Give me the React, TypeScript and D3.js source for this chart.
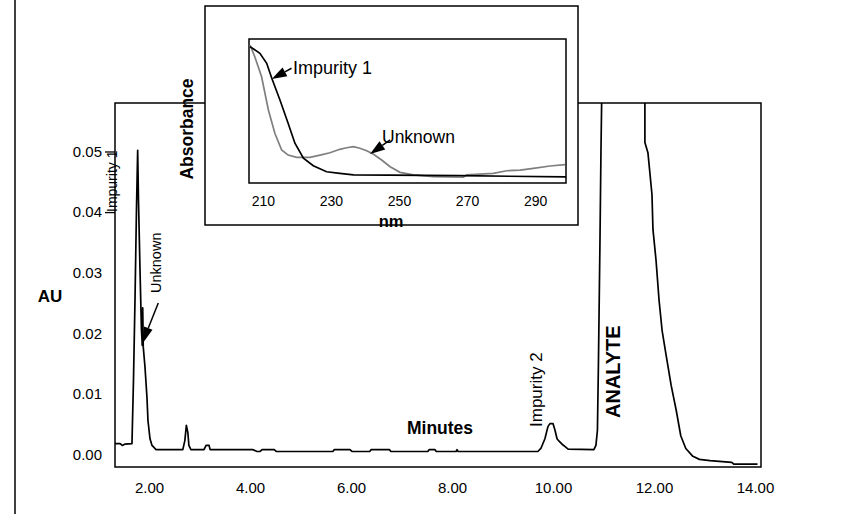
import React, { useRef, useEffect } from "react";
import * as d3 from "d3";

// chromatogram, minutes vs AU
const chromTime = [
  1.327, 1.43, 1.47, 1.52, 1.663, 1.693, 1.723, 1.752, 1.776, 1.792, 1.822, 1.851, 1.868, 1.876, 1.886,
  1.921, 1.96, 1.98, 2.02, 2.06, 2.14, 2.67, 2.71, 2.74, 2.77, 2.79, 2.83, 3.09, 3.13, 3.19, 3.21,
  4.06, 4.14, 4.2, 4.24, 4.48, 4.52, 5.64, 5.67, 5.98, 6.02, 6.37, 6.4, 6.76, 6.79, 7.52, 7.55, 7.66,
  7.69, 8.08, 8.1, 8.12, 9.7, 9.76, 9.84, 9.9, 9.94, 10.0, 10.04, 10.08, 10.12, 10.18, 10.24, 10.3,
  10.81, 10.85, 10.88, 10.9, 10.93, 10.95, 10.97, 11.4, 11.82, 11.82, 11.88, 11.96, 11.98, 12.04,
  12.1, 12.16, 12.24, 12.34, 12.44, 12.53, 12.63, 12.77, 12.9, 13.11, 13.54, 13.58, 14.05,
];
const chromAU = [
  0.0018, 0.0018, 0.0015, 0.0017, 0.0018, 0.0123, 0.0255, 0.0404, 0.0502, 0.042, 0.0305, 0.0205, 0.018, 0.0242, 0.0178,
  0.0144, 0.0094, 0.0056, 0.0026, 0.0015, 0.0008, 0.0008, 0.0023, 0.0048, 0.0036, 0.0015, 0.0008, 0.0008, 0.0015, 0.0015, 0.0008,
  0.0008, 0.0005, 0.0005, 0.0008, 0.0008, 0.0005, 0.0005, 0.0008, 0.0008, 0.0005, 0.0005, 0.0008, 0.0008, 0.0005, 0.0005, 0.0008, 0.0008,
  0.0005, 0.0005, 0.0008, 0.0005, 0.0005, 0.001, 0.0026, 0.0046, 0.0051, 0.0051, 0.004, 0.0026, 0.0022, 0.0017, 0.0013, 0.0009,
  0.0008, 0.0015, 0.004, 0.015, 0.035, 0.05, 0.062, 0.09, 0.062, 0.0515, 0.0498, 0.0429, 0.0371, 0.0321,
  0.0255, 0.0205, 0.0164, 0.0114, 0.0073, 0.0031, 0.001, -0.0003, -0.0008, -0.001, -0.0013, -0.0016, -0.0016,
];

// inset spectra (nm vs relative absorbance)
const imp1Nm = [206.2, 209.1, 211.1, 212.6, 215.0, 217.4, 219.4, 221.9, 224.8, 228.7, 232.6, 236.6, 267.9, 299.1];
const imp1Abs = [0.947, 0.901, 0.831, 0.727, 0.576, 0.415, 0.276, 0.172, 0.12, 0.078, 0.067, 0.056, 0.051, 0.042];
const unkNm = [
  206.2, 207.6, 209.6, 211.6, 213.5, 215.5, 217.4, 219.9, 223.8, 226.8, 229.7, 232.6, 234.6, 236.6, 238.5,
  240.5, 242.4, 244.9, 247.4, 250.3, 254.2, 260.1, 268.9, 269.9, 277.7, 281.7, 285.6, 289.5, 294.4, 298.8,
];
const unkAbs = [
  0.958, 0.877, 0.738, 0.507, 0.345, 0.229, 0.194, 0.178, 0.178, 0.194, 0.21, 0.234, 0.245, 0.252, 0.241,
  0.224, 0.201, 0.16, 0.113, 0.074, 0.056, 0.044, 0.04, 0.056, 0.067, 0.085, 0.09, 0.102, 0.118, 0.127,
];

const xTicks = [2, 4, 6, 8, 10, 12, 14];
const yTicks = [0, 0.01, 0.02, 0.03, 0.04, 0.05];
const insetTicks = [210, 230, 250, 270, 290];

const FONT = "'Liberation Sans', Arial, sans-serif";

function arrow(g, x1, y1, x2, y2, len, half) {
  // line from (x1,y1) to tip (x2,y2) with a filled head
  const a = Math.atan2(y2 - y1, x2 - x1);
  const bx = x2 - len * Math.cos(a);
  const by = y2 - len * Math.sin(a);
  g.append("line").attr("x1", x1).attr("y1", y1).attr("x2", bx).attr("y2", by)
    .attr("stroke", "black").attr("stroke-width", 1.5);
  const px = -Math.sin(a) * half;
  const py = Math.cos(a) * half;
  g.append("path")
    .attr("d", `M${x2},${y2}L${bx + px},${by + py}L${bx - px},${by - py}Z`)
    .attr("fill", "black");
}

function App() {
  const svgRef = useRef(null);

  useEffect(() => {
    const svg = d3.select(svgRef.current);
    svg.selectAll("*").remove();

    const margin = { left: 115, top: 103, right: 761, bottom: 467 };
    const x = d3.scaleLinear().domain([1.327, 14.119]).range([margin.left, margin.right]);
    const y = d3.scaleLinear().domain([-0.00206, 0.058]).range([margin.bottom, margin.top]);

    // outer frame line
    svg.append("line").attr("x1", 15).attr("x2", 15).attr("y1", 0).attr("y2", 514)
      .attr("stroke", "black").attr("stroke-width", 1.5);

    svg.append("clipPath").attr("id", "mainclip").append("rect")
      .attr("x", margin.left).attr("y", margin.top)
      .attr("width", margin.right - margin.left).attr("height", margin.bottom - margin.top);

    svg.append("rect")
      .attr("x", margin.left).attr("y", margin.top)
      .attr("width", margin.right - margin.left).attr("height", margin.bottom - margin.top)
      .attr("fill", "none").attr("stroke", "black").attr("stroke-width", 1.5);

    const pts = chromTime.map((t, i) => [t, chromAU[i]]);
    const line = d3.line().x((d) => x(d[0])).y((d) => y(d[1]));
    svg.append("path").datum(pts).attr("d", line).attr("clip-path", "url(#mainclip)")
      .attr("fill", "none").attr("stroke", "black").attr("stroke-width", 1.7)
      .attr("stroke-linejoin", "round");

    // axes
    const yAxis = d3.axisLeft(y).tickValues(yTicks).tickSize(10).tickPadding(3).tickFormat(d3.format(".2f"));
    const gy = svg.append("g").attr("transform", `translate(${margin.left},0)`).call(yAxis);
    gy.select(".domain").remove();
    gy.selectAll(".tick line").attr("stroke-width", 1.3).attr("opacity", (d) => (d > 0.035 ? 1 : 0));
    gy.selectAll("text").attr("font-family", FONT).attr("font-size", 15).attr("fill", "black");

    const xAxis = d3.axisBottom(x).tickValues(xTicks).tickSize(0).tickPadding(15).tickFormat(d3.format(".2f"));
    const gx = svg.append("g").attr("transform", `translate(0,${margin.bottom})`).call(xAxis);
    gx.select(".domain").remove();
    gx.selectAll("text").attr("font-family", FONT).attr("font-size", 15).attr("fill", "black");

    svg.append("text").attr("x", 50).attr("y", 302).attr("text-anchor", "middle")
      .attr("font-family", FONT).attr("font-weight", "bold").attr("font-size", 17).text("AU");
    svg.append("text").attr("x", 440).attr("y", 434).attr("text-anchor", "middle")
      .attr("font-family", FONT).attr("font-weight", "bold").attr("font-size", 17.5).text("Minutes");

    const vlabel = (tx, ty, txt, size, bold) =>
      svg.append("text").attr("transform", `translate(${tx},${ty}) rotate(-90)`)
        .attr("font-family", FONT).attr("font-size", size)
        .attr("font-weight", bold ? "bold" : "normal").text(txt);
    vlabel(117, 212, "Impurity 1", 14, false);
    vlabel(161, 293, "Unknown", 14.5, false);
    vlabel(542, 427, "Impurity 2", 17, false);
    vlabel(620, 418, "ANALYTE", 20, true);

    const ann = svg.append("g");
    arrow(ann, x(2.184), y(0.025), x(1.855), y(0.0181), 18, 4.5);

    // inset
    const inset = svg.append("g");
    inset.append("rect").attr("x", 205).attr("y", 6).attr("width", 373).attr("height", 219)
      .attr("fill", "white").attr("stroke", "black").attr("stroke-width", 1.5);

    const ix = d3.scaleLinear().domain([205.9, 299.1]).range([249, 566]);
    const iy = d3.scaleLinear().domain([0, 1]).range([183, 39]);

    inset.append("rect").attr("x", 249).attr("y", 39).attr("width", 317).attr("height", 144)
      .attr("fill", "none").attr("stroke", "black").attr("stroke-width", 1.5);

    const iline = d3.line().x((d) => ix(d[0])).y((d) => iy(d[1]));
    inset.append("path").datum(unkNm.map((n, i) => [n, unkAbs[i]])).attr("d", iline)
      .attr("fill", "none").attr("stroke", "#7f7f7f").attr("stroke-width", 1.7);
    inset.append("path").datum(imp1Nm.map((n, i) => [n, imp1Abs[i]])).attr("d", iline)
      .attr("fill", "none").attr("stroke", "black").attr("stroke-width", 1.7);

    const ixAxis = d3.axisBottom(ix).tickValues(insetTicks).tickSize(0).tickPadding(13);
    const gix = inset.append("g").attr("transform", "translate(0,183)").call(ixAxis);
    gix.select(".domain").remove();
    gix.selectAll("text").attr("font-family", FONT).attr("font-size", 14).attr("fill", "black");

    inset.append("text").attr("x", 391).attr("y", 227).attr("text-anchor", "middle")
      .attr("font-family", FONT).attr("font-weight", "bold").attr("font-size", 16.5).text("nm");
    inset.append("text").attr("transform", "translate(193,129) rotate(-90)").attr("text-anchor", "middle")
      .attr("font-family", FONT).attr("font-weight", "bold").attr("font-size", 17.5).text("Absorbance");

    inset.append("text").attr("x", 293).attr("y", 74)
      .attr("font-family", FONT).attr("font-size", 18).text("Impurity 1");
    inset.append("text").attr("x", 382).attr("y", 143)
      .attr("font-family", FONT).attr("font-size", 17.5).text("Unknown");
    arrow(inset, ix(218.4), iy(0.797), ix(212.6), iy(0.722), 15, 5);
    arrow(inset, ix(247.4), iy(0.299), ix(241.5), iy(0.201), 15, 5);
  }, []);

  return (
    <svg ref={svgRef} width={845} height={514} style={{ display: "block", position: "absolute", left: 0, top: 0 }} />
  );
}

export default App;
